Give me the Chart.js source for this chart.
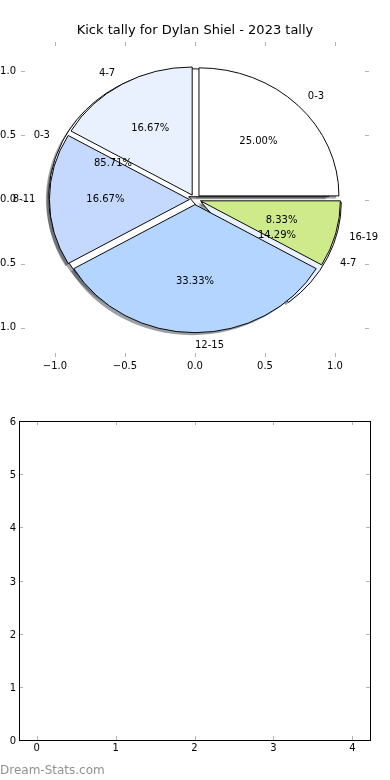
<!DOCTYPE html>
<html>
<head>
<meta charset="utf-8">
<script src="https://cdn.jsdelivr.net/npm/chart.js@4.4.0/dist/chart.umd.min.js"></script>
<style>
    html, body { margin: 0; padding: 0; background: #fff; }
    body { width: 390px; height: 780px; position: relative; overflow: hidden; }
    canvas { position: absolute; left: 0; }
    #pies, #pieAxes { top: 2px; width: 390px; height: 380px; }
    #emptyAxes { top: 390px; width: 390px; height: 390px; }
    #mark { position: absolute; left: 0; top: 763px; font: 12px "DejaVu Sans"; line-height: 14px; color: #919191; }
</style>
</head>
<body>
<canvas id="pies" width="390" height="380"></canvas>
<canvas id="pieAxes" width="390" height="380"></canvas>
<canvas id="emptyAxes" width="390" height="390"></canvas>
<div id="mark">Dream-Stats.com</div>

<script>
// ---- data ----
var chartTitle   = 'Kick tally for Dylan Shiel - 2023 tally';
var outerLabels  = ['0-3', '4-7', '8-11', '12-15', '16-19'];
var outerCounts  = [3, 2, 2, 4, 1];
var innerLabels  = ['0-3', '4-7'];
var innerCounts  = [6, 1];
var pieTicks     = [-1.0, -0.5, 0.0, 0.5, 1.0];
var emptyXTicks  = [0, 1, 2, 3, 4];
var emptyYTicks  = [0, 1, 2, 3, 4, 5, 6];

// ---- styling ----
var outerColours = ['#ffffff', '#eaf1fe', '#c5d9ff', '#b4d5ff', '#cfea8b'];
var innerColours = ['#ffffff', '#e9f0ff'];
var outerExplode = 0.04;
var innerExplode = 0.05;
var fontFamily   = '"DejaVu Sans"';
var tickColour   = '#b4b4b4';

function minusFmt(v) {
    var s = Number(v).toFixed(1);
    return s.charAt(0) === '-' ? '\u2212' + s.slice(1) : s;
}

// inward tick marks on all four sides, matplotlib classic style
var tickMarks = {
    id: 'tickMarks',
    afterDraw: function (chart) {
        var a = chart.chartArea, ctx = chart.ctx, len = 4;
        var xs = chart.scales.x, ys = chart.scales.y;
        ctx.save();
        ctx.strokeStyle = tickColour;
        ctx.lineWidth = 1;
        ctx.beginPath();
        xs.ticks.forEach(function (t) {
            var px = Math.round(xs.getPixelForValue(t.value)) + 0.5;
            ctx.moveTo(px, a.bottom); ctx.lineTo(px, a.bottom - len);
            ctx.moveTo(px, a.top);    ctx.lineTo(px, a.top + len);
        });
        ys.ticks.forEach(function (t) {
            var py = Math.round(ys.getPixelForValue(t.value)) + 0.5;
            ctx.moveTo(a.left, py);  ctx.lineTo(a.left + len, py);
            ctx.moveTo(a.right, py); ctx.lineTo(a.right - len, py);
        });
        ctx.stroke();
        ctx.restore();
    }
};

// wedge labels and percentages, placed in the axes' data units like pyplot.pie
function drawPieText(ctx, xs, ys, labels, counts, explode) {
    var total = counts.reduce(function (a, b) { return a + b; }, 0);
    var theta1 = 0;
    counts.forEach(function (v, i) {
        var frac = v / total, theta2 = theta1 + frac;
        var t = Math.PI * (theta1 + theta2);
        var c = Math.cos(t), s = Math.sin(t);
        ctx.textAlign = c > -1e-9 ? 'left' : 'right';
        ctx.fillText(labels[i], xs.getPixelForValue((explode + 1.1) * c), ys.getPixelForValue((explode + 1.1) * s));
        ctx.textAlign = 'center';
        ctx.fillText((frac * 100).toFixed(2) + '%', xs.getPixelForValue((explode + 0.6) * c), ys.getPixelForValue((explode + 0.6) * s));
        theta1 = theta2;
    });
}

var pieText = {
    id: 'pieText',
    afterDraw: function (chart) {
        var ctx = chart.ctx;
        ctx.save();
        ctx.fillStyle = '#000';
        ctx.textBaseline = 'middle';
        ctx.textAlign = 'center';
        ctx.font = '13px ' + fontFamily;
        ctx.fillText(chartTitle, chart.width / 2, 28.5);
        ctx.font = '10px ' + fontFamily;
        drawPieText(ctx, chart.scales.x, chart.scales.y, innerLabels, innerCounts, innerExplode);
        drawPieText(ctx, chart.scales.x, chart.scales.y, outerLabels, outerCounts, outerExplode);
        ctx.restore();
    }
};

function tickFont() { return { family: fontFamily, size: 10 }; }

// ---- top panel: axes that hold the pies ----
var axesChart = new Chart(document.getElementById('pieAxes'), {
    type: 'scatter',
    data: { datasets: [] },
    options: {
        responsive: false,
        animation: false,
        events: [],
        layout: { padding: { top: 40, right: 21, left: 0, bottom: 0 } },
        plugins: { legend: { display: false }, tooltip: { enabled: false } },
        scales: {
            x: {
                type: 'linear', min: -1.243, max: 1.243,
                grid: { display: false, drawTicks: false },
                border: { display: false },
                afterBuildTicks: function (s) { s.ticks = pieTicks.map(function (v) { return { value: v }; }); },
                afterFit: function (s) { s.height = 25; },
                ticks: { color: '#000', font: tickFont(), padding: 3, maxRotation: 0, autoSkip: false, callback: minusFmt }
            },
            y: {
                type: 'linear', min: -1.23, max: 1.23,
                grid: { display: false, drawTicks: false },
                border: { display: false },
                afterBuildTicks: function (s) { s.ticks = pieTicks.map(function (v) { return { value: v }; }); },
                afterFit: function (s) { s.width = 21; },
                ticks: { color: '#000', font: tickFont(), padding: 5, autoSkip: false, callback: minusFmt }
            }
        }
    },
    plugins: [tickMarks, pieText]
});

// geometry of the unit circle in the axes above
function pieGeometry() {
    var xs = axesChart.scales.x, ys = axesChart.scales.y;
    var cx = xs.getPixelForValue(0), cy = ys.getPixelForValue(0);
    var r = xs.getPixelForValue(1) - cx;
    return { cx: cx, cy: cy, r: r, k: (cy - ys.getPixelForValue(1)) / r,
             sx: xs.getPixelForValue(-0.02) - cx, sy: ys.getPixelForValue(-0.02) - cy };
}

function squish(ctx, g) {
    ctx.translate(g.cx, g.cy);
    ctx.scale(1, g.k);
    ctx.translate(-g.cx, -g.cy);
}

function shade(hex) {
    var n = parseInt(hex.slice(1), 16);
    var r = Math.round(((n >> 16) & 255) * 0.3), gg = Math.round(((n >> 8) & 255) * 0.3), b = Math.round((n & 255) * 0.3);
    return 'rgba(' + r + ',' + gg + ',' + b + ',0.5)';
}

// both pies share the full radius, explode along mid angle, and get a pyplot shadow
var pieLayout = {
    id: 'pieLayout',
    afterDatasetUpdate: function (chart, args) {
        var g = pieGeometry();
        var explode = args.index === 0 ? outerExplode : innerExplode;
        args.meta.data.forEach(function (arc) {
            var mid = (arc.startAngle + arc.endAngle) / 2;
            arc.x = g.cx + Math.cos(mid) * explode * g.r;
            arc.y = g.cy + Math.sin(mid) * explode * g.r;
            arc.innerRadius = 0;
            arc.outerRadius = g.r;
        });
    },
    beforeDatasetsDraw: function (chart) {
        var ctx = chart.ctx, g = pieGeometry();
        ctx.save();
        ctx.translate(g.sx, g.sy);
        squish(ctx, g);
        chart.getSortedVisibleDatasetMetas().slice().reverse().forEach(function (meta) {
            meta.data.forEach(function (arc) {
                var o = arc.options;
                var c = shade(o.backgroundColor);
                arc.options = Object.assign({}, o, { backgroundColor: c, borderColor: c, borderWidth: 0, offset: 0 });
                arc.draw(ctx);
                arc.options = o;
            });
        });
        ctx.restore();
        ctx.save();
        squish(ctx, g);
    },
    afterDatasetsDraw: function (chart) {
        chart.ctx.restore();
    }
};

// Chart.js turns clockwise from the top; pyplot counter-clockwise from east
function rev(a) { return a.slice().reverse(); }

new Chart(document.getElementById('pies'), {
    type: 'pie',
    data: {
        labels: rev(outerLabels),
        datasets: [{
            data: rev(outerCounts),
            backgroundColor: rev(outerColours),
            borderColor: '#000',
            borderWidth: 1,
            borderJoinStyle: 'miter'
        }, {
            data: rev(innerCounts),
            backgroundColor: rev(innerColours),
            borderColor: '#000',
            borderWidth: 1,
            borderJoinStyle: 'miter'
        }]
    },
    options: {
        responsive: false,
        animation: false,
        events: [],
        rotation: 90,
        plugins: { legend: { display: false }, tooltip: { enabled: false } }
    },
    plugins: [pieLayout]
});

// ---- bottom panel: empty axes ----
var frame = {
    id: 'frame',
    afterDraw: function (chart) {
        var a = chart.chartArea, ctx = chart.ctx;
        ctx.save();
        ctx.strokeStyle = '#000';
        ctx.lineWidth = 1;
        ctx.strokeRect(a.left + 0.5, a.top + 0.5, a.right - a.left, a.bottom - a.top);
        ctx.restore();
    }
};

new Chart(document.getElementById('emptyAxes'), {
    type: 'scatter',
    data: { datasets: [] },
    options: {
        responsive: false,
        animation: false,
        events: [],
        layout: { padding: { top: 31, right: 20, left: 0, bottom: 0 } },
        plugins: { legend: { display: false }, tooltip: { enabled: false } },
        scales: {
            x: {
                type: 'linear', min: -0.224, max: 4.224,
                grid: { display: false, drawTicks: false },
                border: { display: false },
                afterBuildTicks: function (s) { s.ticks = emptyXTicks.map(function (v) { return { value: v }; }); },
                afterFit: function (s) { s.height = 40; },
                ticks: { color: '#000', font: tickFont(), padding: 2, maxRotation: 0, autoSkip: false }
            },
            y: {
                type: 'linear', min: 0, max: 6,
                grid: { display: false, drawTicks: false },
                border: { display: false },
                afterBuildTicks: function (s) { s.ticks = emptyYTicks.map(function (v) { return { value: v }; }); },
                afterFit: function (s) { s.width = 19; },
                ticks: { color: '#000', font: tickFont(), padding: 3, labelOffset: 1.5, autoSkip: false }
            }
        }
    },
    plugins: [tickMarks, frame]
});
</script>
</body>
</html>
